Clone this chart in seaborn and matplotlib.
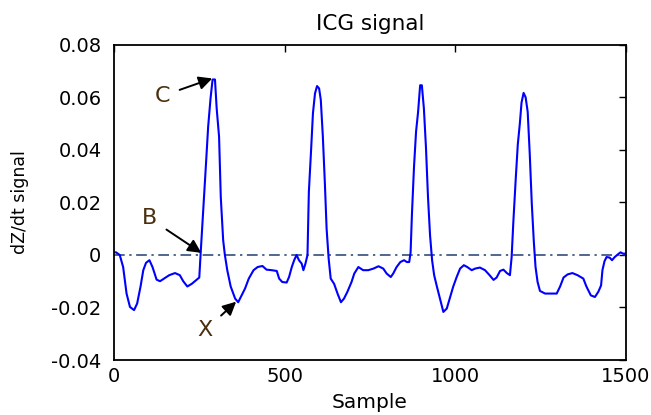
import matplotlib
matplotlib.use('Agg')
import matplotlib.pyplot as plt
import seaborn as sns
import pandas as pd

# ICG dZ/dt trace (sample index, value)
sample = [0, 6, 17, 27, 37, 47, 59, 68, 78, 86, 94, 104, 113, 125, 135, 147, 162, 179, 193,
          203, 215, 228, 240, 250, 254, 262, 270, 276, 283, 289, 296, 301, 308, 313, 320, 325,
          332, 342, 355, 364, 374, 384, 395, 409, 421, 435, 447, 462, 477, 484, 493, 506, 513,
          521, 528, 535, 542, 550, 555, 561, 567, 571, 577, 583, 589, 595, 601, 606, 612, 618,
          623, 629, 635, 645, 655, 665, 674, 684, 696, 704, 716, 730, 745, 760, 775, 789, 799,
          811, 818, 828, 839, 850, 858, 865, 869, 873, 879, 885, 891, 897, 902, 908, 914, 920,
          926, 932, 938, 946, 955, 965, 975, 985, 994, 1004, 1014, 1025, 1035, 1048, 1058, 1072,
          1087, 1099, 1112, 1121, 1131, 1141, 1151, 1160, 1165, 1170, 1177, 1183, 1189, 1194,
          1200, 1206, 1212, 1218, 1224, 1230, 1235, 1241, 1248, 1263, 1282, 1297, 1307, 1317,
          1329, 1343, 1358, 1375, 1384, 1397, 1409, 1419, 1427, 1431, 1437, 1443, 1452, 1459,
          1467, 1477, 1484, 1491, 1500]
dzdt = [0.001, 0.001, 0.0, -0.0046, -0.0147, -0.0198, -0.021, -0.0185, -0.012, -0.0058,
        -0.003, -0.002, -0.0046, -0.0094, -0.010, -0.009, -0.0077, -0.0069, -0.0077, -0.010,
        -0.012, -0.011, -0.0097, -0.0086, 0.0005, 0.0177, 0.0354, 0.0488, 0.0596, 0.0668,
        0.0668, 0.0557, 0.045, 0.022, 0.0056, 0.0, -0.0058, -0.012, -0.0166, -0.018, -0.0154,
        -0.0128, -0.009, -0.0058, -0.0046, -0.0042, -0.0056, -0.0058, -0.0061, -0.009, -0.0103,
        -0.0105, -0.0084, -0.0046, -0.002, 0.0, -0.002, -0.0033, -0.0058, -0.0033, 0.0, 0.024,
        0.0386, 0.054, 0.0615, 0.0643, 0.0634, 0.059, 0.045, 0.027, 0.010, -0.0014, -0.009,
        -0.011, -0.0147, -0.018, -0.0166, -0.014, -0.0103, -0.0071, -0.0046, -0.0058, -0.0058,
        -0.0052, -0.0043, -0.0052, -0.0071, -0.0084, -0.0071, -0.0046, -0.0027, -0.002, -0.0027,
        -0.0027, 0.001, 0.0157, 0.0335, 0.0469, 0.0545, 0.0646, 0.0646, 0.0557, 0.041, 0.022,
        0.0075, -0.002, -0.0077, -0.012, -0.0166, -0.0217, -0.0204, -0.016, -0.012, -0.0084,
        -0.0052, -0.0039, -0.0046, -0.0058, -0.0052, -0.0048, -0.0058, -0.0075, -0.0095,
        -0.0086, -0.0061, -0.0056, -0.0069, -0.0077, -0.0008, 0.0126, 0.029, 0.042, 0.050,
        0.058, 0.0617, 0.060, 0.0545, 0.0386, 0.0196, 0.005, -0.0046, -0.0103, -0.0137,
        -0.0147, -0.0147, -0.0147, -0.012, -0.0086, -0.0074, -0.0069, -0.0077, -0.009, -0.012,
        -0.0154, -0.016, -0.014, -0.0116, -0.0058, -0.0024, -0.0008, -0.001, -0.002, -0.0008,
        0.0003, 0.001, 0.0005, 0.0005]

yticks = [-0.04, -0.02, 0, 0.02, 0.04, 0.06, 0.08]
ytick_labels = ['-0.04', '-0.02', '0', '0.02', '0.04', '0.06', '0.08']
xticks = [0, 500, 1000, 1500]

# annotated points: label, text position, arrow tip
points = ['C', 'B', 'X']
text_xy = [(141, 0.0605), (105, 0.0139), (267, -0.0287)]
tip_xy = [(288, 0.0672), (256, 0.0008), (358, -0.0178)]

df = pd.DataFrame({'Sample': sample, 'dzdt': dzdt})

sns.set_style('white')
plt.rcParams['font.family'] = ['DejaVu Sans']
plt.rcParams['text.color'] = 'black'
plt.rcParams['axes.labelcolor'] = 'black'

fig = plt.figure(figsize=(6.51, 4.15), dpi=100)
ax = fig.add_axes([0.175, 0.1325, 0.7866, 0.7595])

ax.axhline(0, color='#1f3f6f', lw=1.1, ls='-.', dashes=(7, 3, 1.5, 3))
sns.lineplot(data=df, x='Sample', y='dzdt', color='#0000ff', lw=1.5, ax=ax)

for lab, t, p in zip(points, text_xy, tip_xy):
    ax.annotate(lab, xy=p, xytext=t, fontsize=16, color='#4a3010',
                ha='center', va='center',
                arrowprops=dict(arrowstyle='-|>', color='black', lw=1.4,
                                mutation_scale=20, shrinkA=5, shrinkB=0))

ax.set_xlim(0, 1500)
ax.set_ylim(-0.04, 0.08)
ax.set_xticks(xticks)
ax.set_yticks(yticks)
ax.set_yticklabels(ytick_labels)
ax.tick_params(direction='in', top=True, right=True, length=5, width=1,
               labelsize=14, colors='black')
ax.tick_params(axis='x', pad=5)
ax.tick_params(axis='y', pad=9)
for s in ax.spines.values():
    s.set_color('black')
    s.set_linewidth(1.3)

ax.set_title('ICG signal', fontsize=15.5, pad=11, color='black')
ax.set_xlabel('Sample', fontsize=14.5, labelpad=5)
ax.set_ylabel('dZ/dt signal', fontsize=12.5, labelpad=16)

fig.savefig('out.png', dpi=100)
